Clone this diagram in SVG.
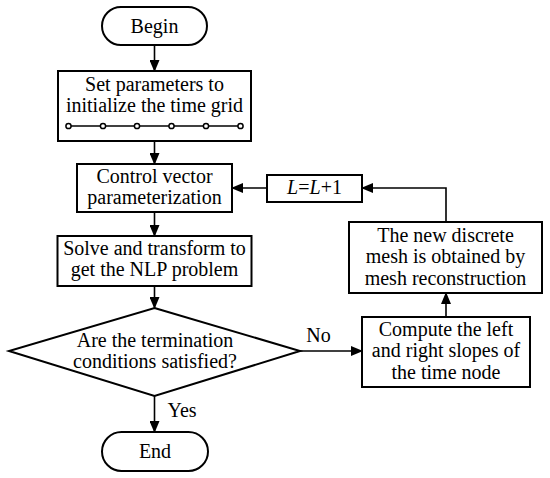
<svg xmlns="http://www.w3.org/2000/svg" width="550" height="478" viewBox="0 0 550 478" font-family="Liberation Serif, Times New Roman, serif">
<defs>
<marker id="ah" markerUnits="userSpaceOnUse" markerWidth="12" markerHeight="10" refX="11" refY="5" orient="auto">
<path d="M0,0 L12,5 L0,10 Z" fill="#000"/>
</marker>
</defs>
<style>
.box{fill:#fff;stroke:#000;stroke-width:2}
.t{font-family:'Liberation Serif',serif;font-size:20px;fill:#000;text-anchor:middle}
.c{fill:none;stroke:#000;stroke-width:1.6}
.dot{fill:#fff;stroke:#000;stroke-width:1.5}
</style>
<rect width="550" height="478" fill="#fff"/>
<g id="connectors">
<line class="c" x1="154.5" y1="45" x2="154.5" y2="71" marker-end="url(#ah)"/>
<line class="c" x1="154.5" y1="141" x2="154.5" y2="164" marker-end="url(#ah)"/>
<line class="c" x1="154.5" y1="212" x2="154.5" y2="236" marker-end="url(#ah)"/>
<line class="c" x1="154.5" y1="286" x2="154.5" y2="308" marker-end="url(#ah)"/>
<line class="c" x1="154.5" y1="396" x2="154.5" y2="432" marker-end="url(#ah)"/>
<line class="c" x1="300" y1="351" x2="362" y2="351" marker-end="url(#ah)"/>
<line class="c" x1="446" y1="317" x2="446" y2="293" marker-end="url(#ah)"/>
<path class="c" d="M446,222 V188 H362" marker-end="url(#ah)"/>
<line class="c" x1="267" y1="188" x2="232" y2="188" marker-end="url(#ah)"/>
<text class="t" x="318.5" y="342" font-family="Liberation Serif, serif">No</text>
<text class="t" x="182" y="417" font-family="Liberation Serif, serif">Yes</text>
</g>
<g id="begin">
<rect class="box" x="102" y="7" width="105" height="38" rx="19"/>
<text class="t" x="154.5" y="33">Begin</text>
</g>
<g id="set-params">
<rect class="box" x="58" y="71" width="193" height="70"/>
<text class="t" x="154.5" y="91">Set parameters to</text>
<text class="t" x="154.5" y="112">initialize the time grid</text>
<line x1="68" y1="126" x2="241" y2="126" stroke="#000" stroke-width="1.5"/>
<circle class="dot" cx="68.5" cy="126" r="2.6"/>
<circle class="dot" cx="103" cy="126" r="2.6"/>
<circle class="dot" cx="137" cy="126" r="2.6"/>
<circle class="dot" cx="171.5" cy="126" r="2.6"/>
<circle class="dot" cx="206" cy="126" r="2.6"/>
<circle class="dot" cx="240.5" cy="126" r="2.6"/>
</g>
<g id="control">
<rect class="box" x="77" y="164" width="155" height="48"/>
<text class="t" x="154.5" y="183">Control vector</text>
<text class="t" x="154.5" y="204">parameterization</text>
</g>
<g id="solve">
<rect class="box" x="57.5" y="236" width="194" height="50"/>
<text class="t" x="154.5" y="255">Solve and transform to</text>
<text class="t" x="154.5" y="276">get the NLP problem</text>
</g>
<g id="decision">
<polygon class="box" points="154.5,308 300,351 154.5,396 9,351"/>
<text class="t" x="155" y="347">Are the termination</text>
<text class="t" x="155" y="368">conditions satisfied?</text>
</g>
<g id="end">
<rect class="box" x="102" y="432" width="106" height="39" rx="19.5"/>
<text class="t" x="155" y="458">End</text>
</g>
<g id="compute">
<rect class="box" x="362" y="317" width="168" height="70"/>
<text class="t" x="446" y="336">Compute the left</text>
<text class="t" x="446" y="357">and right slopes of</text>
<text class="t" x="446" y="379">the time node</text>
</g>
<g id="mesh">
<rect class="box" x="349" y="222" width="193" height="71"/>
<text class="t" x="445.5" y="242">The new discrete</text>
<text class="t" x="445.5" y="263">mesh is obtained by</text>
<text class="t" x="445.5" y="285">mesh reconstruction</text>
</g>
<g id="increment">
<rect class="box" x="267" y="175" width="95" height="27"/>
<text class="t" x="314.5" y="194"><tspan font-style="italic">L</tspan>=<tspan font-style="italic">L</tspan>+1</text>
</g>
</svg>
